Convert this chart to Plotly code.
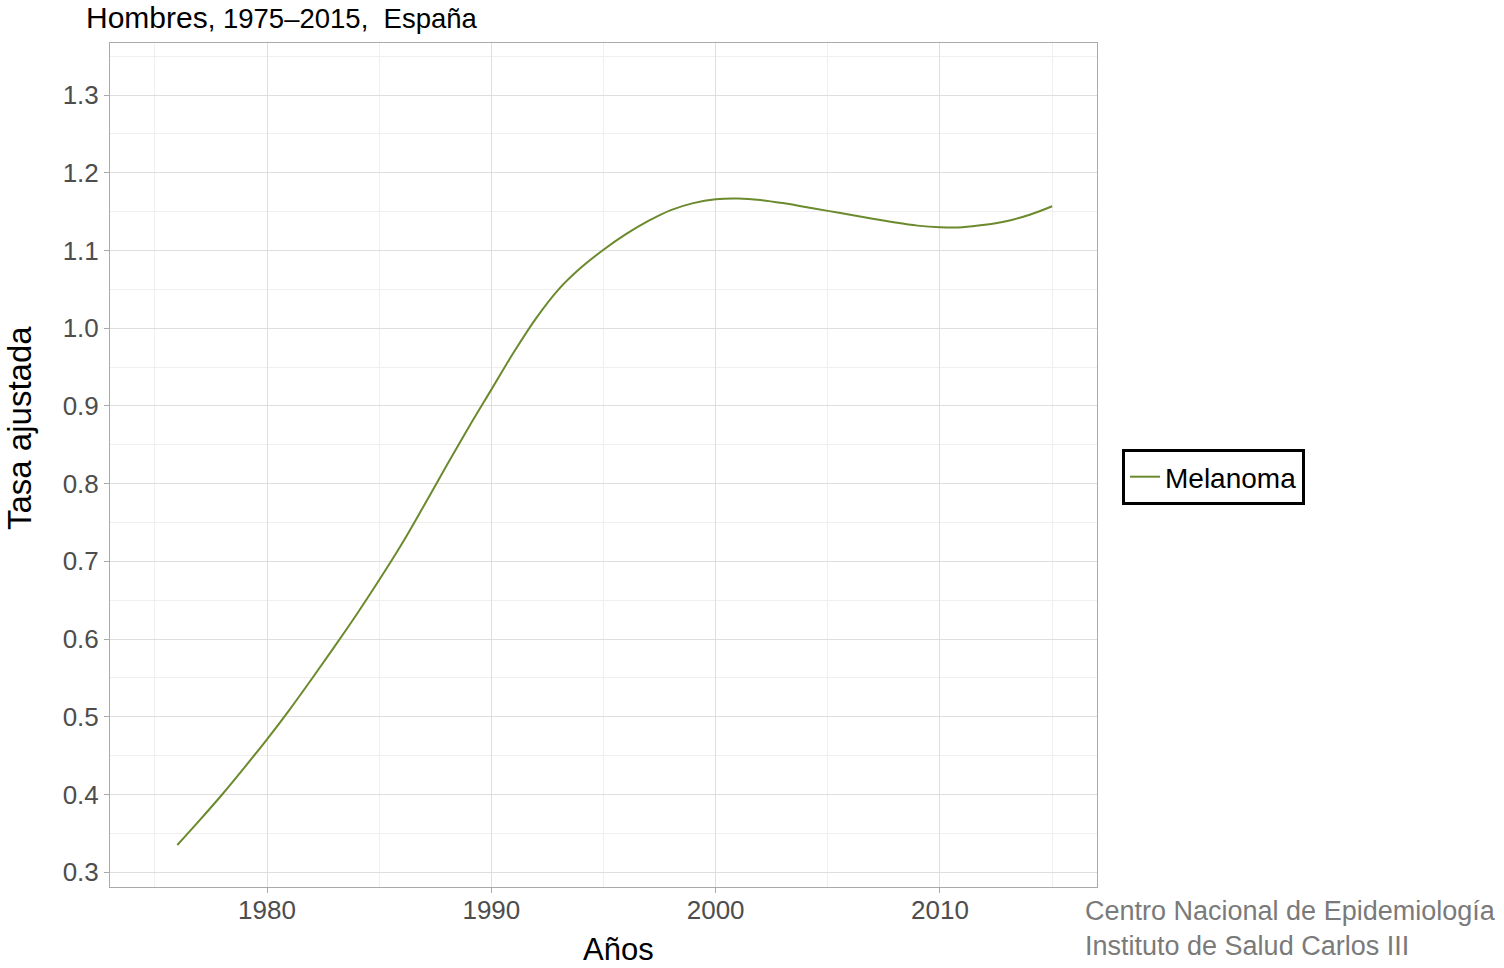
import plotly.graph_objects as go

# Data
years = list(range(1976, 2016))
tasa = [0.335, 0.367, 0.400, 0.435, 0.471, 0.509, 0.549, 0.590, 0.632, 0.676,
        0.722, 0.772, 0.823, 0.873, 0.921, 0.969, 1.013, 1.050, 1.078, 1.101,
        1.121, 1.138, 1.152, 1.161, 1.166, 1.167, 1.165, 1.161, 1.156, 1.151,
        1.146, 1.141, 1.136, 1.132, 1.130, 1.130, 1.133, 1.138, 1.146, 1.157]
serie = "Melanoma"

x_ticks = [1980, 1990, 2000, 2010]
y_ticks = [0.3, 0.4, 0.5, 0.6, 0.7, 0.8, 0.9, 1.0, 1.1, 1.2, 1.3]

FONT = "Liberation Sans, Arial, sans-serif"

L, R, T, B = 110, 407, 43, 81
FW, FH = 1504, 968
W = FW - L - R
H = FH - T - B


def px(xp):
    return (xp - L) / W


def py(yp):
    return (FH - B - yp) / H


fig = go.Figure()
fig.add_trace(go.Scatter(
    x=years, y=tasa, mode="lines", name=serie,
    line=dict(color="#6B8A2E", width=2, shape="spline"),
))

fig.update_layout(
    width=FW, height=FH,
    margin=dict(l=L, r=R, t=T, b=B),
    plot_bgcolor="white", paper_bgcolor="white",
    font=dict(family=FONT, color="#4d4d4d", size=26),
    showlegend=True,
    legend=dict(
        x=px(1122), y=py(477), xanchor="left", yanchor="middle",
        bordercolor="black", borderwidth=3, bgcolor="white",
        font=dict(size=28, color="black", family=FONT),
    ),
)

anns = [
    dict(text="<span style='font-size:30px'>Hombres</span>, 1975–2015,  España",
         x=px(84), y=py(17), xanchor="left", yanchor="middle",
         font=dict(size=27.5, color="black")),
    dict(text="Tasa ajustada", textangle=-90, x=px(20), y=py(428), xanchor="center",
         yanchor="middle", font=dict(size=33, color="black")),
    dict(text="Años", x=px(618), y=py(949), xanchor="center", yanchor="middle",
         font=dict(size=31, color="black")),
    dict(text="Centro Nacional de Epidemiología<br>Instituto de Salud Carlos III",
         x=px(1083), y=py(928), xanchor="left", yanchor="middle", align="left",
         font=dict(size=27, color="#7a7a7a")),
]
for a in anns:
    fig.add_annotation(xref="paper", yref="paper", showarrow=False, **a)

fig.update_xaxes(
    range=[1973, 2017], tickvals=x_ticks, ticks="outside", ticklen=5,
    tickcolor="#aaaaaa", showline=True, mirror=True, linecolor="#aaaaaa",
    linewidth=1, showgrid=True, gridcolor="#dedede", gridwidth=1,
    minor=dict(dtick=5, tick0=1975, showgrid=True, gridcolor="#efefef", ticks=""),
    zeroline=False, tickfont=dict(size=26, color="#4d4d4d"),
    ticklabelstandoff=-5,
)
fig.update_yaxes(
    range=[0.281, 1.367], tickvals=y_ticks, tickformat=".1f", ticks="outside",
    ticklen=5, tickcolor="#aaaaaa", showline=True, mirror=True,
    linecolor="#aaaaaa", linewidth=1, showgrid=True, gridcolor="#dedede",
    minor=dict(dtick=0.05, tick0=0.3, showgrid=True, gridcolor="#efefef", ticks=""),
    zeroline=False, tickfont=dict(size=26, color="#4d4d4d"),
)

# drop the browser's default body margin so the figure fills the window
fig.write_html("out.html", config={"displayModeBar": False},
               post_script="document.body.style.margin='0';")
